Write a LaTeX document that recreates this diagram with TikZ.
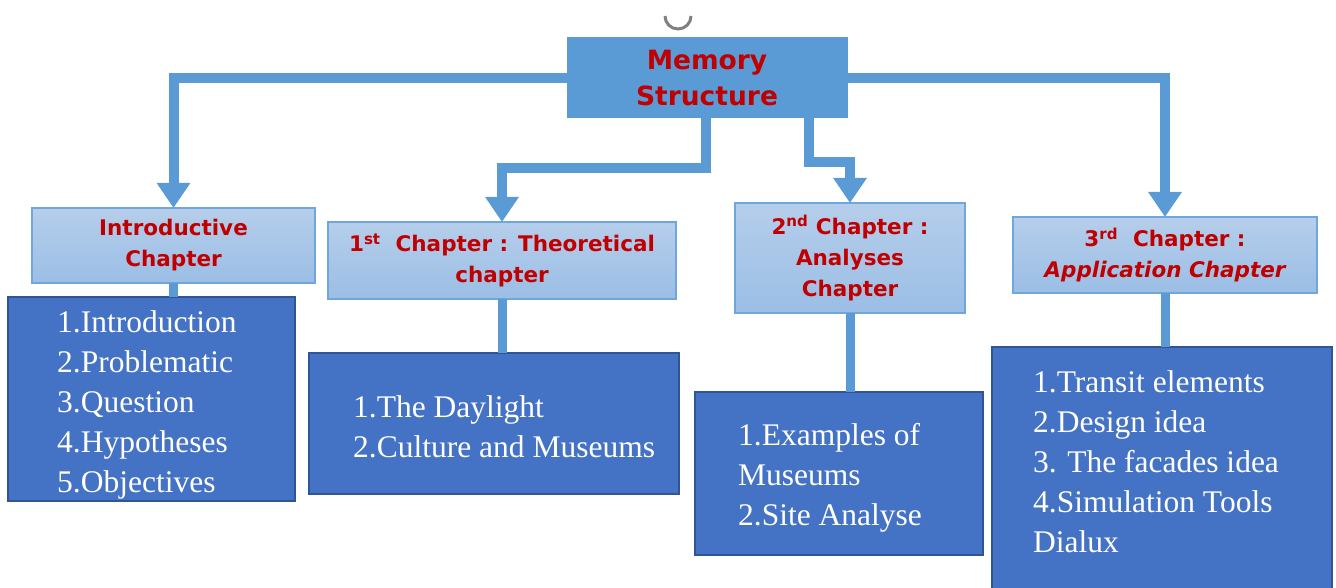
\documentclass[tikz,border=0pt]{standalone}
\usepackage{fontspec}
\setmainfont{Liberation Serif}
\newfontfamily\tfont{DejaVu Sans}
\usetikzlibrary{arrows.meta,calc}
\definecolor{linkblue}{HTML}{5B9BD5}
\definecolor{titlered}{HTML}{C00000}
\definecolor{chaptop}{HTML}{B5CEEB}
\definecolor{chapbot}{HTML}{9BBEE5}
\definecolor{chapborder}{HTML}{6FA6DB}
\definecolor{contfill}{HTML}{4472C4}
\definecolor{contborder}{HTML}{2F5597}
\begin{document}
\begin{tikzpicture}[x=1pt,y=-1pt,
  mainbox/.style={draw=linkblue, fill=linkblue, line width=1pt, outer sep=0pt, inner sep=0pt,
    text=titlered, align=center, font=\tfont\bfseries\fontsize{26.5}{36}\selectfont},
  chapbox/.style={draw=chapborder, line width=2pt, top color=chaptop, bottom color=chapbot,
    outer sep=0pt, inner sep=0pt, text=titlered, align=center,
    font=\tfont\bfseries\fontsize{21.5}{31}\selectfont},
  contbox/.style={draw=contborder, line width=2.5pt, fill=contfill, outer sep=0pt, inner sep=0pt},
  conttext/.style={text=white, font=\fontsize{31.5}{40}\selectfont, align=left, inner sep=0pt, anchor=north west},
  link/.style={draw=linkblue, line width=10pt, line join=miter},
  arrowlink/.style={link, -{Triangle[width=32pt,length=25pt]}},
  stem/.style={draw=linkblue, line width=9pt}
]
\useasboundingbox (0,0) rectangle (1336,588);

% small grey arc at the top
\draw[gray, line width=3pt] (665,16) arc[start angle=180, end angle=0, radius=13];

% title
\node[mainbox, minimum width=280pt, minimum height=80pt] (mem) at (707,78) {Memory\\Structure};

% chapter boxes
\node[chapbox, minimum width=283pt, minimum height=75pt] (intro) at (173.5,245.5) {Introductive\\Chapter};
\node[chapbox, minimum width=348pt, minimum height=77pt] (theo) at (502,260.5)
  {1\textsuperscript{st}\ \ Chapter : Theoretical\\chapter};
\node[chapbox, minimum width=230pt, minimum height=110pt] (anal) at (850,258)
  {2\textsuperscript{nd} Chapter :\\Analyses\\Chapter};
\node[chapbox, minimum width=304pt, minimum height=76pt] (appl) at (1165,255)
  {3\textsuperscript{rd}\ \ Chapter :\\\itshape Application Chapter};

% content boxes
\node[contbox, minimum width=287pt, minimum height=204pt] (c1) at (151.5,399) {};
\node[contbox, minimum width=370pt, minimum height=141pt] (c2) at (494,423.5) {};
\node[contbox, minimum width=288pt, minimum height=163pt] (c3) at (839,473.5) {};
\node[contbox, minimum width=340pt, minimum height=260pt] (c4) at (1162,477) {};

\node[conttext] (t1) at (57,310.5) {1.Introduction\\2.Problematic\\3.Question\\4.Hypotheses\\5.Objectives};
\node[conttext] (t2) at (353,395.5) {1.The Daylight\\2.Culture and Museums};
\node[conttext] (t3) at (738,423.5) {1.Examples of\\Museums\\2.Site Analyse};
\node[conttext] (t4) at (1033,370.5) {1.Transit elements\\2.Design idea\\3. The facades idea\\4.Simulation Tools\\Dialux};

% connectors from the title
\draw[arrowlink] (mem.west) -| (intro.north);
\draw[arrowlink] ($(mem.south)+(-1,0)$) -- ++(0,50) -| (theo.north);
\draw[arrowlink] ($(mem.south)+(102,0)$) -- ++(0,44) -| (anal.north);
\draw[arrowlink] (mem.east) -| (appl.north);

% stems from chapters to content
\draw[stem] (intro.south) -- (intro.south |- c1.north);
\draw[stem] (theo.south) -- (theo.south |- c2.north);
\draw[stem] (anal.south) -- (anal.south |- c3.north);
\draw[stem] (appl.south) -- (appl.south |- c4.north);
\end{tikzpicture}
\end{document}
